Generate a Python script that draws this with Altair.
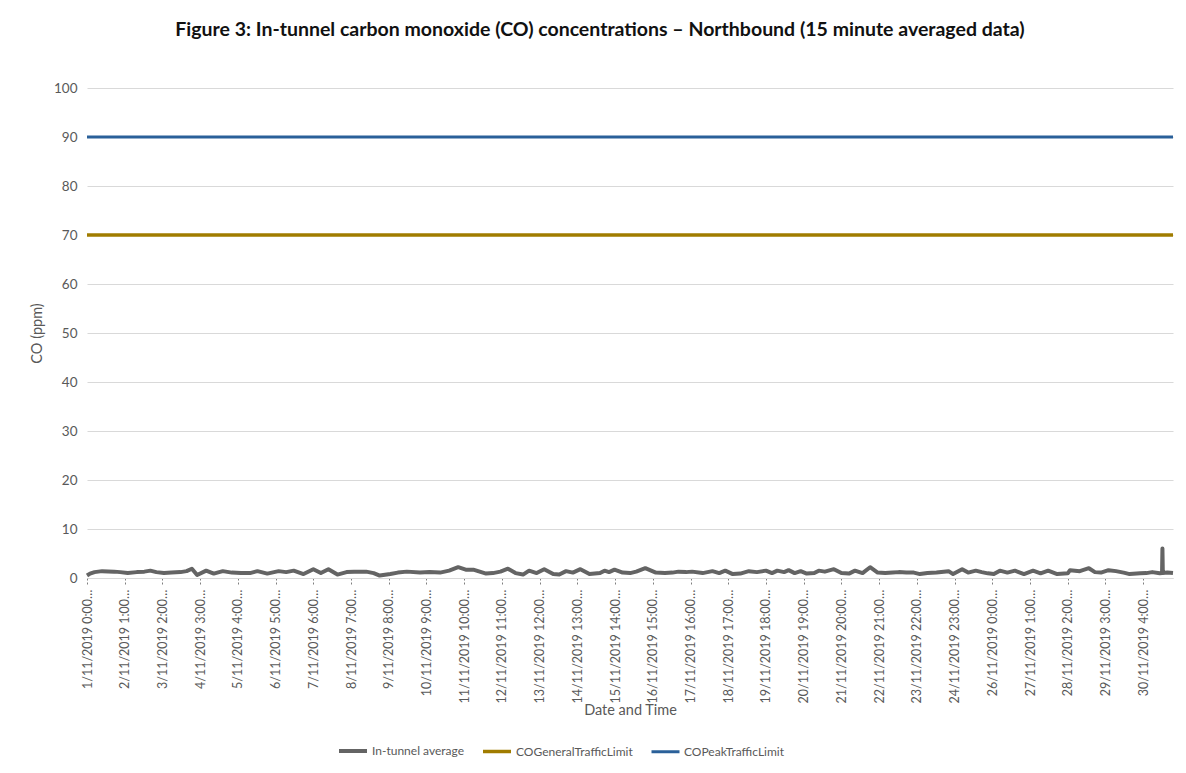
import json
import altair as alt
import pandas as pd

TITLE = "Figure 3: In-tunnel carbon monoxide (CO) concentrations \u2013 Northbound (15 minute averaged data)"
SERIES = ["In-tunnel average", "COGeneralTrafficLimit", "COPeakTrafficLimit"]
COLORS = ["#646464", "#A07C00", "#2A6099"]

# hours since 1/11/2019 0:00 and CO readings (ppm)
hours = [0, 2, 5, 10, 18, 22, 27, 33, 38, 42, 46, 51, 56, 62, 66, 69.5, 73, 79, 84, 90,
         96, 102, 108, 113, 119.5, 127, 132, 137, 143.5, 150, 155, 160, 166, 172, 177, 185,
         190, 194, 201, 206, 212, 220.7, 227, 234, 240, 246, 251, 256, 264.5, 269, 274, 279,
         284, 289, 293, 298, 303, 309, 313, 317.5, 322, 327, 333, 340, 343, 346, 349.6, 355,
         360, 364, 370, 377, 383, 388, 392, 397, 401, 408, 414.5, 419, 423, 428, 433, 438.6,
         444, 450, 454, 457.5, 462, 465, 469, 473, 477, 482, 485, 489, 495, 500, 505, 509,
         514, 519, 524, 529, 534, 538, 543, 548, 552, 557, 563, 571, 574, 580, 584, 589,
         593, 597, 601, 605, 610, 615, 621, 627, 632, 637, 643, 650, 651.5, 658, 664, 668,
         672, 677, 682, 687, 691, 698, 702, 706, 711, 712.5, 712.75, 713, 716, 719.75]
co = [0.5, 0.9, 1.2, 1.4, 1.3, 1.2, 1.0, 1.2, 1.3, 1.5, 1.2, 1.0, 1.1, 1.2, 1.4, 1.9, 0.6, 1.5, 0.9, 1.4,
      1.1, 1.0, 1.0, 1.4, 0.9, 1.4, 1.2, 1.5, 0.8, 1.8, 1.0, 1.8, 0.7, 1.2, 1.3, 1.3,
      1.0, 0.5, 0.8, 1.1, 1.3, 1.1, 1.2, 1.1, 1.5, 2.2, 1.7, 1.7, 0.9, 1.0, 1.3, 1.9,
      1.0, 0.7, 1.5, 1.0, 1.8, 0.8, 0.7, 1.4, 1.1, 1.8, 0.8, 1.0, 1.5, 1.2, 1.7, 1.1,
      1.0, 1.3, 2.0, 1.1, 1.0, 1.1, 1.3, 1.2, 1.3, 1.0, 1.4, 1.0, 1.5, 0.8, 0.9, 1.4,
      1.2, 1.5, 1.0, 1.5, 1.2, 1.6, 1.0, 1.4, 0.9, 1.0, 1.5, 1.3, 1.8, 1.0, 0.9, 1.5,
      1.0, 2.2, 1.1, 1.0, 1.1, 1.2, 1.1, 1.1, 0.8, 1.0, 1.1, 1.4, 0.8, 1.8, 1.1, 1.5,
      1.2, 0.95, 0.8, 1.5, 1.1, 1.5, 0.8, 1.5, 0.95, 1.5, 0.8, 0.95, 1.6, 1.4, 2.0, 1.2,
      1.1, 1.6, 1.4, 1.1, 0.8, 0.95, 1.0, 1.2, 0.95, 1.0, 6.0, 1.0, 1.1, 1.0]

limit_hours = [0, 719.75]
general_limit = [70, 70]
peak_limit = [90, 90]

tick_hours = [0, 25, 50, 75, 100, 125, 150, 175, 200, 225, 250, 275, 300, 325, 350,
              375, 400, 425, 450, 475, 500, 525, 550, 575, 600, 625, 650, 675, 700]
tick_labels = ["1/11/2019 0:00\u2026", "2/11/2019 1:00\u2026", "3/11/2019 2:00\u2026",
               "4/11/2019 3:00\u2026", "5/11/2019 4:00\u2026", "6/11/2019 5:00\u2026",
               "7/11/2019 6:00\u2026", "8/11/2019 7:00\u2026", "9/11/2019 8:00\u2026",
               "10/11/2019 9:00\u2026", "11/11/2019 10:00\u2026", "12/11/2019 11:00\u2026",
               "13/11/2019 12:00\u2026", "14/11/2019 13:00\u2026", "15/11/2019 14:00\u2026",
               "16/11/2019 15:00\u2026", "17/11/2019 16:00\u2026", "18/11/2019 17:00\u2026",
               "19/11/2019 18:00\u2026", "20/11/2019 19:00\u2026", "21/11/2019 20:00\u2026",
               "22/11/2019 21:00\u2026", "23/11/2019 22:00\u2026", "24/11/2019 23:00\u2026",
               "26/11/2019 0:00\u2026", "27/11/2019 1:00\u2026", "28/11/2019 2:00\u2026",
               "29/11/2019 3:00\u2026", "30/11/2019 4:00\u2026"]
y_ticks = [0, 10, 20, 30, 40, 50, 60, 70, 80, 90, 100]

df = pd.concat([
    pd.DataFrame({"hour": hours, "value": co, "series": SERIES[0]}),
    pd.DataFrame({"hour": limit_hours, "value": general_limit, "series": SERIES[1]}),
    pd.DataFrame({"hour": limit_hours, "value": peak_limit, "series": SERIES[2]}),
], ignore_index=True)

label_expr = "[" + ",".join(json.dumps(l, ensure_ascii=False) for l in tick_labels) + "][round(datum.value / 25)]"

FONT = "Lato"
GREY = "#595959"

chart = alt.Chart(df).mark_line(strokeJoin="round").encode(
    x=alt.X("hour:Q",
            scale=alt.Scale(domain=[0, 719.75], nice=False, zero=False),
            axis=alt.Axis(values=tick_hours, labelExpr=label_expr, labelAngle=270,
                          labelAlign="right", labelBaseline="middle", labelFontSize=12.5,
                          labelColor=GREY, labelPadding=3, labelOverlap=False, labelFlush=False,
                          tickDash=[2, 2], tickColor="#7f7f7f", tickSize=8, tickWidth=1,
                          domainColor="#d9d9d9", domainWidth=1, grid=False,
                          title="Date and Time", titleFontSize=14.5, titleColor=GREY,
                          titleFontWeight="normal", titlePadding=1)),
    y=alt.Y("value:Q",
            scale=alt.Scale(domain=[0, 100], nice=False),
            axis=alt.Axis(values=y_ticks, grid=True, gridColor="#d9d9d9", gridWidth=1,
                          ticks=False, domain=False, labelPadding=10, labelFontSize=13.5,
                          labelColor=GREY, title="CO (ppm)", titleFontSize=14.5,
                          titleFontWeight="normal", titleColor=GREY, titlePadding=9)),
    color=alt.Color("series:N",
                    scale=alt.Scale(domain=SERIES, range=COLORS),
                    legend=alt.Legend(title=None, orient="none", direction="horizontal",
                                      legendX=250, legendY=647, symbolType="stroke",
                                      symbolSize=784, symbolStrokeWidth=3.5,
                                      labelFontSize=12, labelColor=GREY, columnPadding=12,
                                      labelOffset=3)),
    strokeWidth=alt.StrokeWidth("series:N",
                                scale=alt.Scale(domain=SERIES, range=[4, 3, 3]),
                                legend=None),
).properties(
    width=1086,
    height=490,
    title=alt.TitleParams(TITLE, fontSize=19.5, font=FONT, fontWeight="bold", color="#111111",
                          anchor="middle", offset=41, dx=-30),
    autosize=alt.AutoSizeParams(type="none"),
    padding={"left": 79, "top": 80, "right": 5, "bottom": 187},
).configure(font=FONT).configure_view(stroke="transparent")

chart.save("out.html", embed_options={"renderer": "svg", "actions": False})
